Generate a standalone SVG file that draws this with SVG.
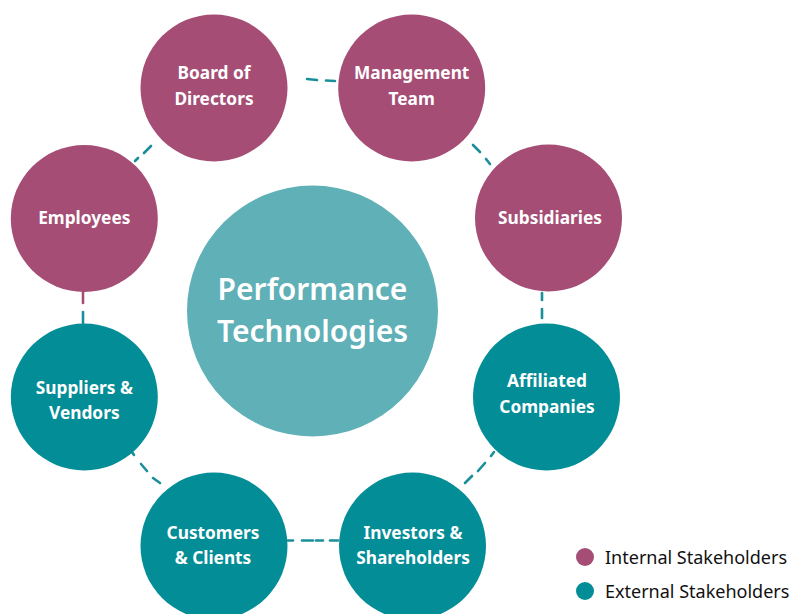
<svg xmlns="http://www.w3.org/2000/svg" width="798" height="614" viewBox="0 0 798 614">
<style>
.int{fill:#a54d75}
.ext{fill:#038d96}
.ctr{fill:#5fb0b7}
.lbl{font-family:"Noto Sans","Open Sans",sans-serif;font-weight:700;font-size:17.3px;fill:#ffffff;text-anchor:middle}
.big{font-family:"Noto Sans","Open Sans",sans-serif;font-weight:600;font-size:30px;fill:#ffffff;text-anchor:middle}
.leg{font-family:"Noto Sans","Open Sans",sans-serif;font-size:18px;fill:#111111}
.con{stroke:#1a8f99;stroke-width:2.6;fill:none;stroke-linecap:round}
.conm{stroke:#a54d75;stroke-width:2.6;fill:none;stroke-linecap:round}
</style>
<rect width="798" height="614" fill="#ffffff"/>
<g id="connectors">
<line class="con" x1="307" y1="79" x2="317" y2="80"/>
<line class="con" x1="326" y1="80.5" x2="335" y2="81"/>
<line class="con" x1="151" y1="146" x2="144" y2="153"/>
<line class="con" x1="138" y1="158" x2="135" y2="161"/>
<line class="con" x1="473" y1="145" x2="480" y2="152"/>
<line class="con" x1="486" y1="159" x2="490" y2="164"/>
<line class="conm" x1="83" y1="292" x2="83" y2="303"/>
<line class="con" x1="83" y1="312" x2="83" y2="323"/>
<line class="con" x1="542" y1="293" x2="542" y2="300"/>
<line class="con" x1="542" y1="309" x2="542" y2="318"/>
<line class="con" x1="132" y1="452" x2="134" y2="455"/>
<line class="con" x1="141" y1="464" x2="147" y2="471"/>
<line class="con" x1="153" y1="478" x2="160" y2="483"/>
<line class="con" x1="494" y1="452" x2="491" y2="456"/>
<line class="con" x1="485" y1="463" x2="478" y2="471"/>
<line class="con" x1="472" y1="476" x2="465" y2="483"/>
<line class="con" x1="288" y1="540.5" x2="293" y2="540.5"/>
<line class="con" x1="302" y1="540.5" x2="313" y2="540.5"/>
<line class="con" x1="316" y1="540.5" x2="323" y2="540.5"/>
<line class="con" x1="330" y1="540.5" x2="338" y2="540.5"/>
</g>
<g id="center">
<circle class="ctr" cx="312.5" cy="311" r="125.5"/>
<text class="big" x="312.5" y="300">Performance</text>
<text class="big" x="312.5" y="342">Technologies</text>
</g>
<g id="board">
<circle class="int" cx="214" cy="88" r="73.5"/>
<text class="lbl" x="214" y="79">Board of</text>
<text class="lbl" x="214" y="105">Directors</text>
</g>
<g id="management">
<circle class="int" cx="411.7" cy="88" r="73.5"/>
<text class="lbl" x="411.7" y="79">Management</text>
<text class="lbl" x="411.7" y="105">Team</text>
</g>
<g id="employees">
<circle class="int" cx="84.3" cy="218.5" r="73.5"/>
<text class="lbl" x="84.3" y="224">Employees</text>
</g>
<g id="subsidiaries">
<circle class="int" cx="548.5" cy="218" r="73.5"/>
<text class="lbl" x="550" y="224">Subsidiaries</text>
</g>
<g id="suppliers">
<circle class="ext" cx="84.3" cy="397" r="73.5"/>
<text class="lbl" x="84.3" y="394">Suppliers &amp;</text>
<text class="lbl" x="84.3" y="419">Vendors</text>
</g>
<g id="affiliated">
<circle class="ext" cx="546.5" cy="397" r="73.5"/>
<text class="lbl" x="547" y="387">Affiliated</text>
<text class="lbl" x="547" y="413">Companies</text>
</g>
<g id="customers">
<circle class="ext" cx="214" cy="546" r="73.5"/>
<text class="lbl" x="213" y="539">Customers</text>
<text class="lbl" x="213" y="564">&amp; Clients</text>
</g>
<g id="investors">
<circle class="ext" cx="412.5" cy="546" r="73.5"/>
<text class="lbl" x="413" y="539">Investors &amp;</text>
<text class="lbl" x="413" y="564">Shareholders</text>
</g>
<g id="legend">
<circle class="int" cx="585" cy="557" r="9"/>
<text class="leg" x="605" y="563.5">Internal Stakeholders</text>
<circle class="ext" cx="585" cy="591" r="9"/>
<text class="leg" x="605" y="597.5">External Stakeholders</text>
</g>
</svg>
